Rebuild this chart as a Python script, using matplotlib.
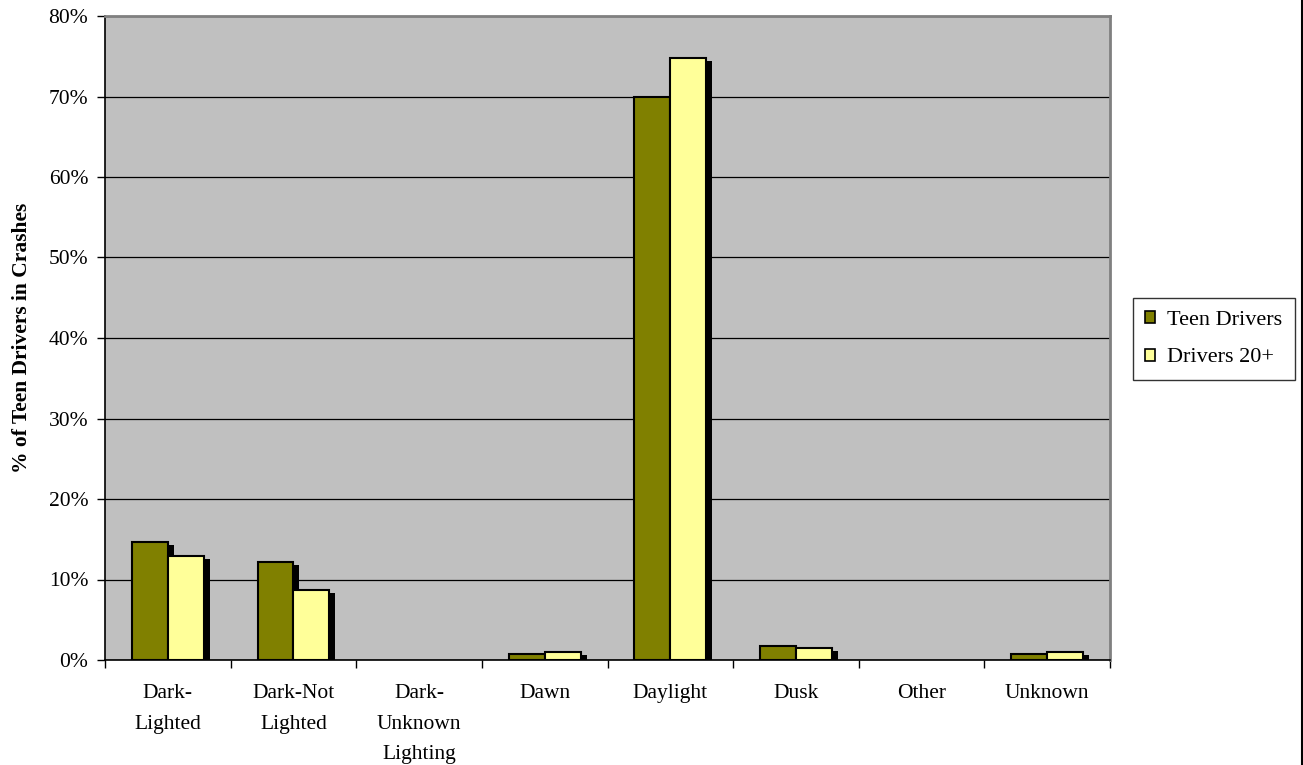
import matplotlib
matplotlib.use("Agg")
import matplotlib.pyplot as plt
import matplotlib.transforms as mtransforms
from matplotlib.lines import Line2D
from matplotlib.patches import Patch
import numpy as np

plt.rcParams['font.family'] = ['Liberation Serif', 'DejaVu Serif']

categories = ["Dark-\nLighted", "Dark-Not\nLighted", "Dark-\nUnknown\nLighting",
              "Dawn", "Daylight", "Dusk", "Other", "Unknown"]
teen_drivers = [14.7, 12.2, 0.0, 0.75, 69.9, 1.7, 0.0, 0.75]
drivers_20_plus = [12.9, 8.7, 0.0, 1.0, 74.8, 1.5, 0.0, 1.0]
series_names = ["Teen Drivers", "Drivers 20+"]
series_colors = ["#808000", "#FFFF99"]
y_ticks = [0, 10, 20, 30, 40, 50, 60, 70, 80]

W, H = 1303, 765
fig = plt.figure(figsize=(W / 100, H / 100), dpi=100)
ax = fig.add_axes([105 / W, 1 - 660 / H, (1110 - 105) / W, (660 - 16) / H])
ax.set_facecolor("#C0C0C0")

x = np.arange(len(categories))
bw = 1 / 3.5  # gap width 150%
offsets = [-bw / 2, bw / 2]

# drop shadow: offset right and down by a few pixels
shadow_tr = ax.transData + mtransforms.ScaledTranslation(6 / 100, -3 / 100, fig.dpi_scale_trans)

for vals, off in zip([teen_drivers, drivers_20_plus], offsets):
    vals = np.array(vals)
    mask = vals > 0
    ax.bar(x[mask] + off, vals[mask], width=bw, color="black", edgecolor="none",
           transform=shadow_tr, zorder=2)
for vals, off, col in zip([teen_drivers, drivers_20_plus], offsets, series_colors):
    vals = np.array(vals)
    mask = vals > 0
    ax.bar(x[mask] + off, vals[mask], width=bw, color=col, edgecolor="black",
           linewidth=1.5, zorder=3)

ax.set_xlim(-0.5, len(categories) - 0.5)
ax.set_ylim(0, 80)
ax.set_yticks(y_ticks)
ax.set_yticklabels([f"{v}%" for v in y_ticks], fontsize=15.5)
ax.yaxis.grid(True, color="black", linewidth=0.9)
ax.set_axisbelow(True)

ax.set_xticks(np.arange(len(categories) + 1) - 0.5)
ax.set_xticklabels([])
ax.set_xticks(x, minor=True)
ax.set_xticklabels(categories, minor=True, fontsize=15.5, linespacing=1.85, va="top")
ax.tick_params(axis="x", which="minor", length=0, pad=17)
ax.tick_params(axis="x", which="major", length=6, width=1, direction="out", color="black")
ax.tick_params(axis="y", length=6, width=1, direction="out", pad=6)

ax.spines["left"].set_color("black")
ax.spines["bottom"].set_color("black")
ax.spines["left"].set_linewidth(1.2)
ax.spines["bottom"].set_linewidth(1.2)
ax.spines["top"].set_color("#808080")
ax.spines["right"].set_color("#808080")
ax.spines["top"].set_linewidth(2)
ax.spines["right"].set_linewidth(2)

ax.set_ylabel("% of Teen Drivers in Crashes", fontsize=15.5, fontweight="bold", labelpad=12)

handles = [Patch(facecolor=c, edgecolor="black", linewidth=1.2) for c in series_colors]
leg = fig.legend(handles, series_names, loc="center left",
                 bbox_to_anchor=(1133 / W, 1 - 339 / H), fontsize=16,
                 handlelength=0.45, handleheight=0.45, handletextpad=0.55,
                 labelspacing=0.85, borderpad=0.55, borderaxespad=0,
                 frameon=True, fancybox=False)
leg.get_frame().set_edgecolor("black")
leg.get_frame().set_linewidth(1.0)

# outer chart border on the right
fig.add_artist(Line2D([1301.5 / W, 1301.5 / W], [0, 1], color="black", linewidth=1.5,
                      transform=fig.transFigure))

fig.savefig("out.png", dpi=100)
